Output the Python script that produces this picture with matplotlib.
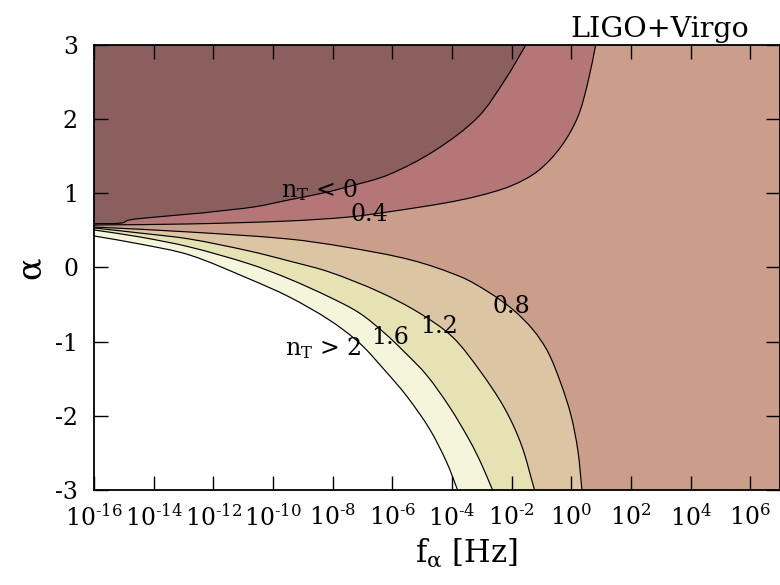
import numpy as np
import matplotlib
matplotlib.use("Agg")
import matplotlib.pyplot as plt
from matplotlib.path import Path
from matplotlib.patches import PathPatch

plt.rcParams["font.family"] = ["DejaVu Serif"]
plt.rcParams["mathtext.fontset"] = "dejavuserif"

# Contour lines of the tensor tilt n_T: log10(f_alpha / Hz) and alpha along each line
level_0_logf = [-16.0, -15.06, -14.83, -13.93, -12.39, -12.05, -10.58, -9.48, -8.37,
                -7.47, -6.13, -4.56, -3.12, -2.22, -1.52]
level_0_alpha = [0.59, 0.60, 0.64, 0.68, 0.735, 0.75, 0.82, 0.91, 1.00,
                 1.09, 1.25, 1.58, 2.03, 2.53, 3.0]

level_04_logf = [-16.0, -12.82, -9.48, -7.47, -6.13, -4.23, -3.12, -2.02, -1.12,
                 -0.35, 0.22, 0.555, 0.82]
level_04_alpha = [0.573, 0.587, 0.627, 0.68, 0.75, 0.87, 0.964, 1.10, 1.30,
                  1.625, 2.03, 2.49, 3.0]

level_08_logf = [-16.0, -12.82, -9.48, -7.57, -5.36, -3.69, -2.78, -1.95, -1.28,
                 -0.78, -0.35, -0.01, 0.22, 0.36]
level_08_alpha = [0.546, 0.479, 0.384, 0.276, 0.10, -0.128, -0.33, -0.57, -0.84,
                  -1.14, -1.56, -1.99, -2.46, -3.0]

level_12_logf = [-16.0, -14.47, -12.80, -10.79, -9.45, -8.11, -6.43, -5.09, -3.98,
                 -3.08, -2.24, -1.67, -1.23]
level_12_alpha = [0.533, 0.465, 0.384, 0.222, 0.087, -0.061, -0.33, -0.614, -0.937,
                  -1.382, -1.894, -2.393, -3.0]

level_16_logf = [-16.0, -14.47, -12.80, -10.79, -9.45, -8.11, -7.10, -6.26, -5.59,
                 -4.85, -4.08, -3.41, -3.01, -2.64]
level_16_alpha = [0.506, 0.412, 0.277, 0.048, -0.155, -0.398, -0.614, -0.884, -1.14,
                  -1.45, -1.88, -2.33, -2.65, -3.0]

level_20_logf = [-16.0, -14.47, -12.80, -10.79, -9.45, -8.11, -7.10, -6.26, -5.52,
                 -4.75, -4.18, -3.81]
level_20_alpha = [0.425, 0.317, 0.169, -0.155, -0.398, -0.708, -1.018, -1.382, -1.732,
                  -2.177, -2.622, -3.0]

band_colors = {
    "below0": "#8c5f5f",
    "0-0.4": "#b57677",
    "0.4-0.8": "#ca9e8a",
    "0.8-1.2": "#dcc5a3",
    "1.2-1.6": "#e6e2b4",
    "1.6-2": "#f5f5dc",
    "above2": "#ffffff",
}

xticks_exp = list(range(-16, 7, 2))
yticks = [-3, -2, -1, 0, 1, 2, 3]
X_MIN, X_MAX = 1e-16, 1e7
Y_MIN, Y_MAX = -3, 3

fig = plt.figure(figsize=(7.8, 5.85), dpi=100)
ax = fig.add_axes([0.1205, 0.1624, 0.8795, 0.7607])
ax.set_xscale("log")
ax.set_facecolor(band_colors["0.4-0.8"])

# relative screen scale of one decade and one unit of alpha
SX, SY = 30.0, 74.0


def smooth_curve(logf, alpha):
    """Cubic Bezier path through the contour points (chord-length tangents),
    built in (log10 f, alpha) and returned in data coordinates."""
    p = np.column_stack([logf, alpha]).astype(float)
    q = p * [SX, SY]
    h = np.hypot(*np.diff(q, axis=0).T)
    t = np.concatenate([[0], np.cumsum(h)])
    n = len(p)
    m = np.zeros_like(p)
    m[0] = (p[1] - p[0]) / h[0]
    m[-1] = (p[-1] - p[-2]) / h[-1]
    for i in range(1, n - 1):
        m[i] = (p[i + 1] - p[i - 1]) / (t[i + 1] - t[i - 1])
    verts = [p[0]]
    codes = [Path.MOVETO]
    for i in range(n - 1):
        c1 = p[i] + m[i] * h[i] / 3.0
        c2 = p[i + 1] - m[i + 1] * h[i] / 3.0
        verts += [c1, c2, p[i + 1]]
        codes += [Path.CURVE4] * 3
    verts = np.array(verts)
    verts[:, 0] = 10.0 ** verts[:, 0]
    return verts, codes


def region(logf, alpha, corner_alpha, color):
    verts, codes = smooth_curve(logf, alpha)
    verts = np.vstack([verts, [[X_MIN, corner_alpha]], [[X_MIN, corner_alpha]]])
    codes = codes + [Path.LINETO, Path.CLOSEPOLY]
    ax.add_patch(PathPatch(Path(verts, codes), facecolor=color, lw=0, zorder=1))


def contour_line(logf, alpha):
    verts, codes = smooth_curve(logf, alpha)
    ax.add_patch(PathPatch(Path(verts, codes), facecolor="none",
                           edgecolor="black", lw=0.85, zorder=2))


region(level_04_logf, level_04_alpha, Y_MAX, band_colors["0-0.4"])
region(level_0_logf, level_0_alpha, Y_MAX, band_colors["below0"])
region(level_08_logf, level_08_alpha, Y_MIN, band_colors["0.8-1.2"])
region(level_12_logf, level_12_alpha, Y_MIN, band_colors["1.2-1.6"])
region(level_16_logf, level_16_alpha, Y_MIN, band_colors["1.6-2"])
region(level_20_logf, level_20_alpha, Y_MIN, band_colors["above2"])

for lf, al in [(level_0_logf, level_0_alpha), (level_04_logf, level_04_alpha),
               (level_08_logf, level_08_alpha), (level_12_logf, level_12_alpha),
               (level_16_logf, level_16_alpha), (level_20_logf, level_20_alpha)]:
    contour_line(lf, al)

ax.set_xlim(X_MIN, X_MAX)
ax.set_ylim(Y_MIN, Y_MAX)

# contour labels
lab_kw = dict(fontsize=17, color="black", zorder=3, ha="center", va="center")
ax.text(10 ** -8.45, 1.05, r"n$_\mathrm{T}$ < 0", **lab_kw)
ax.text(10 ** -6.78, 0.71, "0.4", **lab_kw)
ax.text(10 ** -2.02, -0.53, "0.8", **lab_kw)
ax.text(10 ** -4.43, -0.79, "1.2", **lab_kw)
ax.text(10 ** -6.08, -0.94, "1.6", **lab_kw)
ax.text(10 ** -8.32, -1.08, r"n$_\mathrm{T}$ > 2", **lab_kw)

ax.set_xticks([10.0 ** e for e in xticks_exp])
ax.set_xticklabels([r"$10^{\text{%s}}$" % ("-%d" % -e if e < 0 else "%d" % e)
                    for e in xticks_exp])
ax.xaxis.set_minor_locator(matplotlib.ticker.NullLocator())
ax.set_yticks(yticks)
ax.set_yticklabels([("-%d" % -v) if v < 0 else "%d" % v for v in yticks])
ax.tick_params(direction="in", length=10, width=1, top=True, right=True,
               labelsize=17)
ax.tick_params(axis="x", pad=10)
ax.tick_params(axis="y", pad=11.5)
for s in ax.spines.values():
    s.set_linewidth(1.3)
    s.set_zorder(4)

ax.set_xlabel(r"f$_{\mathrm{\alpha}}$ [Hz]", fontsize=22)
ax.xaxis.set_label_coords(0.543, -0.105)
ax.set_ylabel("α", fontsize=24, labelpad=6)
ax.set_title("LIGO+Virgo", fontsize=20.5, loc="right", pad=6, x=0.955)

fig.savefig("out.png", dpi=100)
